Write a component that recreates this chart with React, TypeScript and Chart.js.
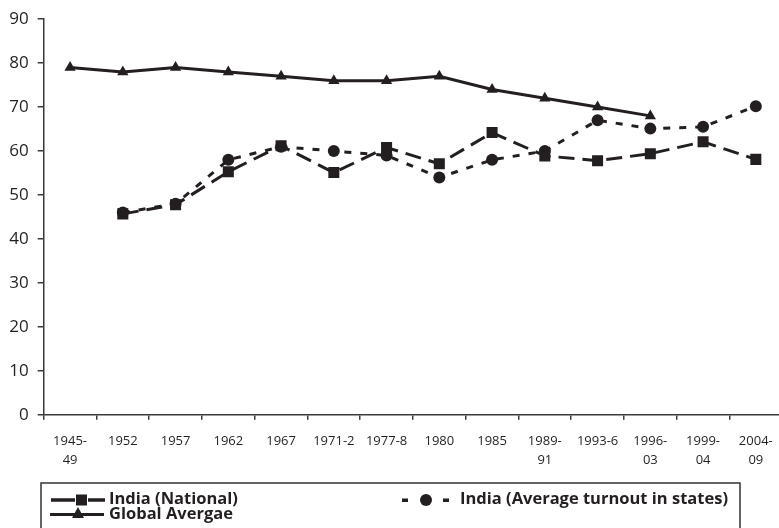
import React, { useEffect, useRef } from "react";
import { Chart, registerables } from "chart.js";

Chart.register(...registerables);

const categories: (string | string[])[] = [
  ["1945-", "49"], "1952", "1957", "1962", "1967", "1971-2", "1977-8", "1980", "1985",
  ["1989-", "91"], "1993-6", ["1996-", "03"], ["1999-", "04"], ["2004-", "09"],
];
const indiaNational = [null, 45.7, 47.8, 55.3, 61.2, 55.1, 60.8, 57.1, 64.2, 58.9, 57.8, 59.4, 62.1, 58.1];
const indiaStates = [null, 46, 48, 58, 61, 60, 59, 54, 58, 60, 67, 65.1, 65.5, 70.2];
const globalAverage = [79, 78, 79, 78, 77, 76, 76, 77, 74, 72, 70, 68, null, null];
const seriesNames = ["India (National)", "India (Average turnout in states)", "Global Avergae"];

const INK = "#231f20";
const AXIS = "#3a3a3a";

const legendPlugin = {
  id: "boxLegend",
  afterDraw(chart: any) {
    const ctx = chart.ctx as CanvasRenderingContext2D;
    ctx.save();
    ctx.strokeStyle = "#333";
    ctx.lineWidth = 1.5;
    ctx.strokeRect(41, 483, 699, 60);
    ctx.font = "bold 16.5px 'Open Sans'";
    ctx.fillStyle = INK;
    ctx.textBaseline = "middle";
    ctx.textAlign = "left";
    // item 1: India (National)
    ctx.strokeStyle = INK;
    ctx.lineWidth = 3.5;
    ctx.beginPath();
    ctx.moveTo(51, 500); ctx.lineTo(75, 500);
    ctx.moveTo(88, 500); ctx.lineTo(105, 500);
    ctx.stroke();
    ctx.fillRect(76, 494.5, 11, 11);
    ctx.fillText(seriesNames[0], 109, 499);
    // item 2: states
    ctx.fillRect(402, 498.5, 6, 3.5);
    ctx.fillRect(443, 498.5, 6, 3.5);
    ctx.beginPath();
    ctx.arc(426, 500, 6, 0, Math.PI * 2);
    ctx.fill();
    ctx.fillText(seriesNames[1], 460, 499);
    // item 3: global
    ctx.lineWidth = 3;
    ctx.beginPath();
    ctx.moveTo(50, 514.5); ctx.lineTo(104, 514.5);
    ctx.stroke();
    ctx.beginPath();
    ctx.moveTo(78, 507); ctx.lineTo(84, 518); ctx.lineTo(72, 518); ctx.closePath();
    ctx.fill();
    ctx.fillText(seriesNames[2], 109, 514);
    ctx.restore();
  },
};

export default function App() {
  const ref = useRef<HTMLCanvasElement | null>(null);
  useEffect(() => {
    if (!ref.current) return;
    const chart = new Chart(ref.current, {
      type: "line",
      data: {
        labels: categories as any,
        datasets: [
          {
            label: seriesNames[1],
            data: indiaStates as any,
            borderColor: INK,
            backgroundColor: INK,
            borderWidth: 3,
            borderDash: [7, 9],
            pointStyle: "circle",
            pointRadius: 6,
            pointBorderWidth: 0,
            spanGaps: false,
            order: 3,
          },
          {
            label: seriesNames[0],
            data: indiaNational as any,
            borderColor: INK,
            backgroundColor: INK,
            borderWidth: 3,
            borderDash: [16, 8],
            pointStyle: "rect",
            pointRadius: 7.8,
            pointBorderWidth: 0,
            order: 2,
          },
          {
            label: seriesNames[2],
            data: globalAverage as any,
            borderColor: INK,
            backgroundColor: INK,
            borderWidth: 3,
            pointStyle: "triangle",
            pointRadius: 6.5,
            pointBorderWidth: 0,
            order: 1,
          },
        ],
      },
      options: {
        animation: false,
        responsive: false,
        devicePixelRatio: 1,
        layout: { padding: { left: 0, right: 6, top: 18, bottom: 0 } },
        plugins: { legend: { display: false }, tooltip: { enabled: false } },
        scales: {
          x: {
            type: "category",
            offset: true,
            grid: {
              offset: true,
              drawOnChartArea: false,
              drawTicks: true,
              tickLength: 5,
              color: AXIS,
              lineWidth: 1.5,
            },
            border: { display: true, color: AXIS, width: 1.5 },
            ticks: {
              color: INK,
              font: { family: "'Open Sans'", size: 13, lineHeight: 1.46 },
              padding: 12,
              maxRotation: 0,
              autoSkip: false,
            },
            afterFit: (s: any) => { s.height = 528 - 414.7; },
          },
          y: {
            min: 0,
            max: 90,
            grid: {
              drawOnChartArea: false,
              drawTicks: true,
              tickLength: 6,
              color: AXIS,
              lineWidth: 1.5,
            },
            border: { display: true, color: AXIS, width: 1.5 },
            ticks: {
              stepSize: 10,
              color: INK,
              font: { family: "'Open Sans'", size: 17 },
              padding: 9,
            },
            afterFit: (s: any) => { s.width = 43.7; },
          },
        },
      },
      plugins: [legendPlugin],
    });
    return () => chart.destroy();
  }, []);
  return (
    <div style={{ position: "fixed", left: 0, top: 0, width: 779, height: 528, overflow: "hidden", background: "#fff" }}>
      <canvas ref={ref} width={790} height={528} style={{ display: "block" }} />
    </div>
  );
}
